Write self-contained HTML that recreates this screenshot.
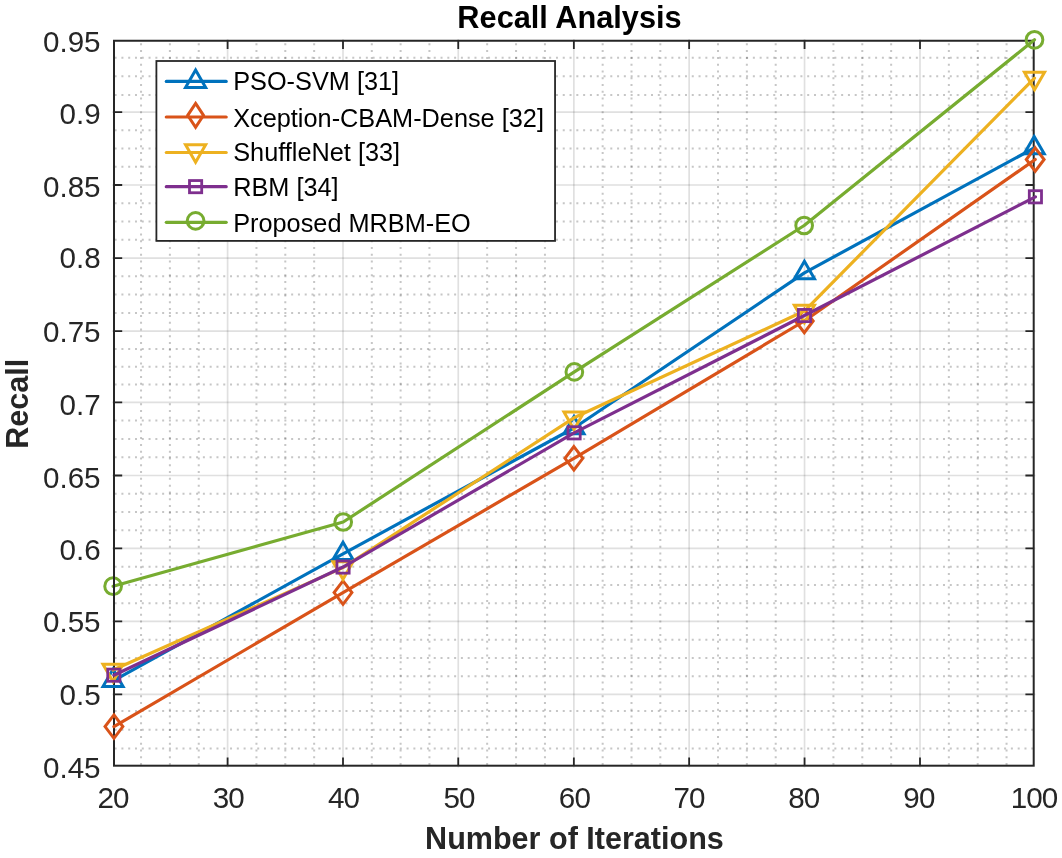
<!DOCTYPE html><html><head><meta charset="utf-8"><title>Recall Analysis</title><style>html,body{margin:0;padding:0;background:#fff;}body{width:1062px;height:858px;overflow:hidden;}svg{display:block;font-family:"Liberation Sans",sans-serif;will-change:transform;}</style></head><body>
<svg width="1062" height="858" viewBox="0 0 1062 858">
<rect width="1062" height="858" fill="#fff"/>
<defs><clipPath id="ax"><rect x="112.20" y="39.10" width="923.20" height="728.30"/></clipPath></defs>
<g clip-path="url(#ax)" stroke="#1a1a1a" stroke-opacity="0.25" stroke-width="2.00" stroke-dasharray="2.00 4.79"><line x1="141.05" y1="2.56" x2="141.05" y2="767.40"/><line x1="169.90" y1="2.56" x2="169.90" y2="767.40"/><line x1="198.75" y1="2.56" x2="198.75" y2="767.40"/><line x1="256.45" y1="2.56" x2="256.45" y2="767.40"/><line x1="285.30" y1="2.56" x2="285.30" y2="767.40"/><line x1="314.15" y1="2.56" x2="314.15" y2="767.40"/><line x1="371.81" y1="2.56" x2="371.81" y2="767.40"/><line x1="400.62" y1="2.56" x2="400.62" y2="767.40"/><line x1="429.44" y1="2.56" x2="429.44" y2="767.40"/><line x1="487.15" y1="2.56" x2="487.15" y2="767.40"/><line x1="516.05" y1="2.56" x2="516.05" y2="767.40"/><line x1="544.95" y1="2.56" x2="544.95" y2="767.40"/><line x1="602.67" y1="2.56" x2="602.67" y2="767.40"/><line x1="631.50" y1="2.56" x2="631.50" y2="767.40"/><line x1="660.32" y1="2.56" x2="660.32" y2="767.40"/><line x1="718.00" y1="2.56" x2="718.00" y2="767.40"/><line x1="746.85" y1="2.56" x2="746.85" y2="767.40"/><line x1="775.70" y1="2.56" x2="775.70" y2="767.40"/><line x1="833.42" y1="2.56" x2="833.42" y2="767.40"/><line x1="862.28" y1="2.56" x2="862.28" y2="767.40"/><line x1="891.14" y1="2.56" x2="891.14" y2="767.40"/><line x1="948.85" y1="2.56" x2="948.85" y2="767.40"/><line x1="977.70" y1="2.56" x2="977.70" y2="767.40"/><line x1="1006.55" y1="2.56" x2="1006.55" y2="767.40"/><line x1="107.82" y1="748.60" x2="1035.40" y2="748.60"/><line x1="107.82" y1="729.80" x2="1035.40" y2="729.80"/><line x1="107.82" y1="711.00" x2="1035.40" y2="711.00"/><line x1="107.82" y1="676.16" x2="1035.40" y2="676.16"/><line x1="107.82" y1="657.91" x2="1035.40" y2="657.91"/><line x1="107.82" y1="639.67" x2="1035.40" y2="639.67"/><line x1="107.82" y1="603.16" x2="1035.40" y2="603.16"/><line x1="107.82" y1="584.91" x2="1035.40" y2="584.91"/><line x1="107.82" y1="566.65" x2="1035.40" y2="566.65"/><line x1="107.82" y1="530.17" x2="1035.40" y2="530.17"/><line x1="107.82" y1="511.94" x2="1035.40" y2="511.94"/><line x1="107.82" y1="493.72" x2="1035.40" y2="493.72"/><line x1="107.82" y1="457.19" x2="1035.40" y2="457.19"/><line x1="107.82" y1="438.89" x2="1035.40" y2="438.89"/><line x1="107.82" y1="420.60" x2="1035.40" y2="420.60"/><line x1="107.82" y1="384.51" x2="1035.40" y2="384.51"/><line x1="107.82" y1="366.72" x2="1035.40" y2="366.72"/><line x1="107.82" y1="348.93" x2="1035.40" y2="348.93"/><line x1="107.82" y1="312.88" x2="1035.40" y2="312.88"/><line x1="107.82" y1="294.62" x2="1035.40" y2="294.62"/><line x1="107.82" y1="276.36" x2="1035.40" y2="276.36"/><line x1="107.82" y1="239.83" x2="1035.40" y2="239.83"/><line x1="107.82" y1="221.56" x2="1035.40" y2="221.56"/><line x1="107.82" y1="203.29" x2="1035.40" y2="203.29"/><line x1="107.82" y1="166.79" x2="1035.40" y2="166.79"/><line x1="107.82" y1="148.56" x2="1035.40" y2="148.56"/><line x1="107.82" y1="130.33" x2="1035.40" y2="130.33"/><line x1="107.82" y1="94.95" x2="1035.40" y2="94.95"/><line x1="107.82" y1="76.30" x2="1035.40" y2="76.30"/><line x1="107.82" y1="57.80" x2="1035.40" y2="57.80"/></g>
<g stroke="#262626" stroke-opacity="0.14" stroke-width="1.7"><line x1="227.60" y1="39.10" x2="227.60" y2="767.40"/><line x1="343.00" y1="39.10" x2="343.00" y2="767.40"/><line x1="458.25" y1="39.10" x2="458.25" y2="767.40"/><line x1="573.85" y1="39.10" x2="573.85" y2="767.40"/><line x1="689.14" y1="39.10" x2="689.14" y2="767.40"/><line x1="804.56" y1="39.10" x2="804.56" y2="767.40"/><line x1="920.00" y1="39.10" x2="920.00" y2="767.40"/><line x1="112.20" y1="694.40" x2="1035.40" y2="694.40"/><line x1="112.20" y1="621.42" x2="1035.40" y2="621.42"/><line x1="112.20" y1="548.40" x2="1035.40" y2="548.40"/><line x1="112.20" y1="475.49" x2="1035.40" y2="475.49"/><line x1="112.20" y1="402.30" x2="1035.40" y2="402.30"/><line x1="112.20" y1="331.14" x2="1035.40" y2="331.14"/><line x1="112.20" y1="258.10" x2="1035.40" y2="258.10"/><line x1="112.20" y1="185.02" x2="1035.40" y2="185.02"/><line x1="112.20" y1="112.10" x2="1035.40" y2="112.10"/></g>
<rect x="114.00" y="40.75" width="919.70" height="724.95" fill="none" stroke="#262626" stroke-width="2"/>
<path d="M227.60 765.70V757.40M227.60 40.75V49.10M343.00 765.70V757.40M343.00 40.75V49.10M458.25 765.70V757.40M458.25 40.75V49.10M573.85 765.70V757.40M573.85 40.75V49.10M689.14 765.70V757.40M689.14 40.75V49.10M804.56 765.70V757.40M804.56 40.75V49.10M920.00 765.70V757.40M920.00 40.75V49.10M114.00 694.40H122.20M1033.70 694.40H1025.40M114.00 621.42H122.20M1033.70 621.42H1025.40M114.00 548.40H122.20M1033.70 548.40H1025.40M114.00 475.49H122.20M1033.70 475.49H1025.40M114.00 402.30H122.20M1033.70 402.30H1025.40M114.00 331.14H122.20M1033.70 331.14H1025.40M114.00 258.10H122.20M1033.70 258.10H1025.40M114.00 185.02H122.20M1033.70 185.02H1025.40M114.00 112.10H122.20M1033.70 112.10H1025.40" stroke="#262626" stroke-width="1.8" fill="none"/>
<polyline points="113.05,680.80 343.00,553.80 574.00,428.00 804.40,272.85 1034.20,148.00" fill="none" stroke="#0072BD" stroke-width="3.20" stroke-linejoin="round" stroke-linecap="round"/>
<polygon points="113.05,669.20 123.10,686.60 103.00,686.60" fill="none" stroke="#0072BD" stroke-width="3.00" stroke-miterlimit="10"/>
<polygon points="343.00,542.20 353.05,559.60 332.95,559.60" fill="none" stroke="#0072BD" stroke-width="3.00" stroke-miterlimit="10"/>
<polygon points="574.00,416.40 584.05,433.80 563.95,433.80" fill="none" stroke="#0072BD" stroke-width="3.00" stroke-miterlimit="10"/>
<polygon points="804.40,261.25 814.45,278.65 794.35,278.65" fill="none" stroke="#0072BD" stroke-width="3.00" stroke-miterlimit="10"/>
<polygon points="1034.20,136.40 1044.25,153.80 1024.15,153.80" fill="none" stroke="#0072BD" stroke-width="3.00" stroke-miterlimit="10"/>
<polyline points="113.95,726.60 343.00,592.60 573.90,458.30 804.30,321.00 1035.20,159.50" fill="none" stroke="#D95319" stroke-width="3.20" stroke-linejoin="round" stroke-linecap="round"/>
<polygon points="113.95,714.90 122.85,726.60 113.95,738.30 105.05,726.60" fill="none" stroke="#D95319" stroke-width="3.00" stroke-miterlimit="10"/>
<polygon points="343.00,580.90 351.90,592.60 343.00,604.30 334.10,592.60" fill="none" stroke="#D95319" stroke-width="3.00" stroke-miterlimit="10"/>
<polygon points="573.90,446.60 582.80,458.30 573.90,470.00 565.00,458.30" fill="none" stroke="#D95319" stroke-width="3.00" stroke-miterlimit="10"/>
<polygon points="804.30,309.30 813.20,321.00 804.30,332.70 795.40,321.00" fill="none" stroke="#D95319" stroke-width="3.00" stroke-miterlimit="10"/>
<polygon points="1035.20,147.80 1044.10,159.50 1035.20,171.20 1026.30,159.50" fill="none" stroke="#D95319" stroke-width="3.00" stroke-miterlimit="10"/>
<polyline points="113.00,670.00 343.00,567.60 574.00,417.80 804.40,311.05 1034.50,78.10" fill="none" stroke="#EDB120" stroke-width="3.20" stroke-linejoin="round" stroke-linecap="round"/>
<polygon points="113.00,681.60 123.05,664.20 102.95,664.20" fill="none" stroke="#EDB120" stroke-width="3.00" stroke-miterlimit="10"/>
<polygon points="343.00,579.20 353.05,561.80 332.95,561.80" fill="none" stroke="#EDB120" stroke-width="3.00" stroke-miterlimit="10"/>
<polygon points="574.00,429.40 584.05,412.00 563.95,412.00" fill="none" stroke="#EDB120" stroke-width="3.00" stroke-miterlimit="10"/>
<polygon points="804.40,322.65 814.45,305.25 794.35,305.25" fill="none" stroke="#EDB120" stroke-width="3.00" stroke-miterlimit="10"/>
<polygon points="1034.50,89.70 1044.55,72.30 1024.45,72.30" fill="none" stroke="#EDB120" stroke-width="3.00" stroke-miterlimit="10"/>
<polyline points="113.85,675.20 343.05,567.05 574.10,432.85 804.45,315.55 1035.40,196.80" fill="none" stroke="#7E2F8E" stroke-width="3.20" stroke-linejoin="round" stroke-linecap="round"/>
<rect x="107.75" y="669.10" width="12.20" height="12.20" fill="none" stroke="#7E2F8E" stroke-width="2.8"/>
<rect x="336.95" y="560.95" width="12.20" height="12.20" fill="none" stroke="#7E2F8E" stroke-width="2.8"/>
<rect x="568.00" y="426.75" width="12.20" height="12.20" fill="none" stroke="#7E2F8E" stroke-width="2.8"/>
<rect x="798.35" y="309.45" width="12.20" height="12.20" fill="none" stroke="#7E2F8E" stroke-width="2.8"/>
<rect x="1029.30" y="190.70" width="12.20" height="12.20" fill="none" stroke="#7E2F8E" stroke-width="2.8"/>
<polyline points="113.10,586.20 343.20,522.00 574.35,371.90 804.15,225.50 1034.50,39.80" fill="none" stroke="#77AC30" stroke-width="3.20" stroke-linejoin="round" stroke-linecap="round"/>
<circle cx="113.10" cy="586.20" r="8.35" fill="none" stroke="#77AC30" stroke-width="3.00"/>
<circle cx="343.20" cy="522.00" r="8.35" fill="none" stroke="#77AC30" stroke-width="3.00"/>
<circle cx="574.35" cy="371.90" r="8.35" fill="none" stroke="#77AC30" stroke-width="3.00"/>
<circle cx="804.15" cy="225.50" r="8.35" fill="none" stroke="#77AC30" stroke-width="3.00"/>
<circle cx="1034.50" cy="39.80" r="8.35" fill="none" stroke="#77AC30" stroke-width="3.00"/>
<line x1="114" y1="575.5" x2="114" y2="597" stroke="#262626" stroke-width="2"/>
<g font-size="29.6" fill="#262626"><text x="113.10" y="808.00" text-anchor="middle" letter-spacing="-0.9">20</text><text x="228.35" y="808.00" text-anchor="middle" letter-spacing="-0.9">30</text><text x="343.60" y="808.00" text-anchor="middle" letter-spacing="-0.9">40</text><text x="459.00" y="808.00" text-anchor="middle" letter-spacing="-0.9">50</text><text x="574.40" y="808.00" text-anchor="middle" letter-spacing="-0.9">60</text><text x="689.05" y="808.00" text-anchor="middle" letter-spacing="-0.9">70</text><text x="803.70" y="808.00" text-anchor="middle" letter-spacing="-0.9">80</text><text x="918.90" y="808.00" text-anchor="middle" letter-spacing="-0.9">90</text><text x="1034.10" y="808.00" text-anchor="middle" letter-spacing="-0.9">100</text><text x="100.60" y="778.15" text-anchor="end">0.45</text><text x="100.60" y="704.90" text-anchor="end">0.5</text><text x="100.60" y="632.45" text-anchor="end">0.55</text><text x="100.60" y="560.45" text-anchor="end">0.6</text><text x="100.60" y="487.70" text-anchor="end">0.65</text><text x="100.60" y="414.55" text-anchor="end">0.7</text><text x="100.60" y="341.90" text-anchor="end">0.75</text><text x="100.60" y="268.35" text-anchor="end">0.8</text><text x="100.60" y="197.45" text-anchor="end">0.85</text><text x="100.60" y="124.25" text-anchor="end">0.9</text><text x="100.60" y="51.50" text-anchor="end">0.95</text></g>
<text x="569.5" y="27.9" text-anchor="middle" font-size="30.73" font-weight="bold" fill="#000">Recall Analysis</text>
<text x="574.45" y="848.85" text-anchor="middle" font-size="30.55" font-weight="bold" fill="#262626">Number of Iterations</text>
<text transform="translate(28.0,403.8) rotate(-90)" text-anchor="middle" font-size="30.5" font-weight="bold" fill="#262626">Recall</text>
<rect x="156.40" y="61.00" width="398.65" height="179.90" fill="#fff" stroke="#262626" stroke-width="1.8"/>
<line x1="166.3" y1="81.45" x2="226.2" y2="81.45" stroke="#0072BD" stroke-width="3.20" stroke-linecap="round"/>
<polygon points="195.60,70.00 205.65,87.40 185.55,87.40" fill="none" stroke="#0072BD" stroke-width="3.00" stroke-miterlimit="10"/>
<text x="233.2" y="90.30" font-size="25.3" fill="#000">PSO-SVM [31]</text>
<line x1="166.3" y1="117.00" x2="226.2" y2="117.00" stroke="#D95319" stroke-width="3.20" stroke-linecap="round"/>
<polygon points="195.60,103.45 203.50,115.35 195.60,127.25 187.70,115.35" fill="none" stroke="#D95319" stroke-width="3.00" stroke-miterlimit="10"/>
<text x="233.2" y="126.80" font-size="25.3" fill="#000">Xception-CBAM-Dense [32]</text>
<line x1="166.3" y1="152.50" x2="226.2" y2="152.50" stroke="#EDB120" stroke-width="3.20" stroke-linecap="round"/>
<polygon points="195.60,162.25 205.65,144.85 185.55,144.85" fill="none" stroke="#EDB120" stroke-width="3.00" stroke-miterlimit="10"/>
<text x="233.2" y="160.50" font-size="25.3" fill="#000">ShuffleNet [33]</text>
<line x1="166.3" y1="186.70" x2="226.2" y2="186.70" stroke="#7E2F8E" stroke-width="3.20" stroke-linecap="round"/>
<rect x="189.50" y="180.55" width="12.20" height="12.20" fill="none" stroke="#7E2F8E" stroke-width="2.8"/>
<text x="233.2" y="195.80" font-size="25.3" fill="#000">RBM [34]</text>
<line x1="166.3" y1="222.30" x2="226.2" y2="222.30" stroke="#77AC30" stroke-width="3.20" stroke-linecap="round"/>
<circle cx="195.60" cy="220.85" r="8.35" fill="none" stroke="#77AC30" stroke-width="3.00"/>
<text x="233.2" y="231.60" font-size="25.3" fill="#000">Proposed MRBM-EO</text>
</svg></body></html>
